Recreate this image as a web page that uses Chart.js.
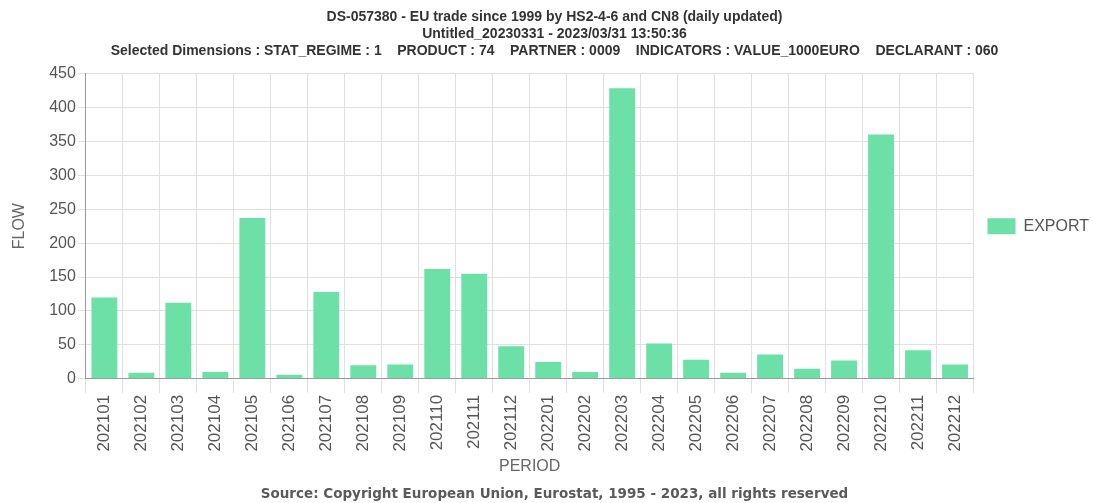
<!DOCTYPE html>
<html><head><meta charset="utf-8">
<script src="https://cdn.jsdelivr.net/npm/chart.js@4/dist/chart.umd.min.js"></script>
<style>html,body{margin:0;padding:0;background:#fff;}#wrap{width:1093px;height:503px;}</style>
</head><body><div id="wrap"><canvas id="c" width="1093" height="503"></canvas></div>
<script>
const periods = ['202101','202102','202103','202104','202105','202106','202107','202108','202109','202110','202111','202112','202201','202202','202203','202204','202205','202206','202207','202208','202209','202210','202211','202212'];
const exportValues = [120,9,112,10,237,6,128,20,21,162,155,48,25,10,428,52,28,9,36,15,27,360,42,21];
const titleLines = ['DS-057380 - EU trade since 1999 by HS2-4-6 and CN8 (daily updated)','Untitled_20230331 - 2023/03/31 13:50:36','Selected Dimensions : STAT_REGIME : 1    PRODUCT : 74    PARTNER : 0009    INDICATORS : VALUE_1000EURO    DECLARANT : 060'];
const sourceText = 'Source: Copyright European Union, Eurostat, 1995 - 2023, all rights reserved';

new Chart(document.getElementById('c'), {
  type: 'bar',
  data: { labels: periods, datasets: [{ label: 'EXPORT', data: exportValues, backgroundColor: '#6de0a7', borderWidth: 0, barPercentage: 0.7, categoryPercentage: 1.0 }] },
  options: {
    responsive: false, animation: false, devicePixelRatio: 1,
    layout: { padding: { left: 10, right: -6, top: 0, bottom: 0 } },
    plugins: {
      title: { display: true, text: titleLines, color: '#333', font: { family: 'Liberation Sans', size: 14, weight: 'bold', lineHeight: 1.2 }, padding: { top: 9, bottom: 14 } },
      subtitle: { display: true, position: 'bottom', text: sourceText, color: '#5a5a5a', font: { family: 'DejaVu Sans', size: 13.5, weight: 'bold', lineHeight: 1.2 }, padding: { top: 0, bottom: 0 } },
      legend: { position: 'right', fullSize: false, labels: { boxWidth: 28, boxHeight: 16, color: '#555', font: { family: 'Liberation Sans', size: 16 }, padding: 14 } },
      tooltip: { enabled: false }
    },
    scales: {
      x: {
        title: { display: true, text: 'PERIOD', color: '#666', font: { family: 'Liberation Sans', size: 16, lineHeight: 1.2 }, padding: { top: 3, bottom: 11 } },
        ticks: { minRotation: 90, maxRotation: 90, color: '#555', font: { family: 'Liberation Sans', size: 17 }, autoSkip: false, padding: 2 },
        grid: { color: '#e0e0e0', offset: true, tickLength: 14 },
        border: { color: '#999' }
      },
      y: {
        min: 0, max: 450,
        title: { display: true, text: 'FLOW', color: '#666', font: { family: 'Liberation Sans', size: 16 }, padding: { top: 0, bottom: 18 } },
        ticks: { stepSize: 50, color: '#555', font: { family: 'Liberation Sans', size: 16 }, padding: 2 },
        grid: { color: '#e0e0e0', tickLength: 8 },
        border: { color: '#999' }
      }
    }
  }
});
</script></body></html>
